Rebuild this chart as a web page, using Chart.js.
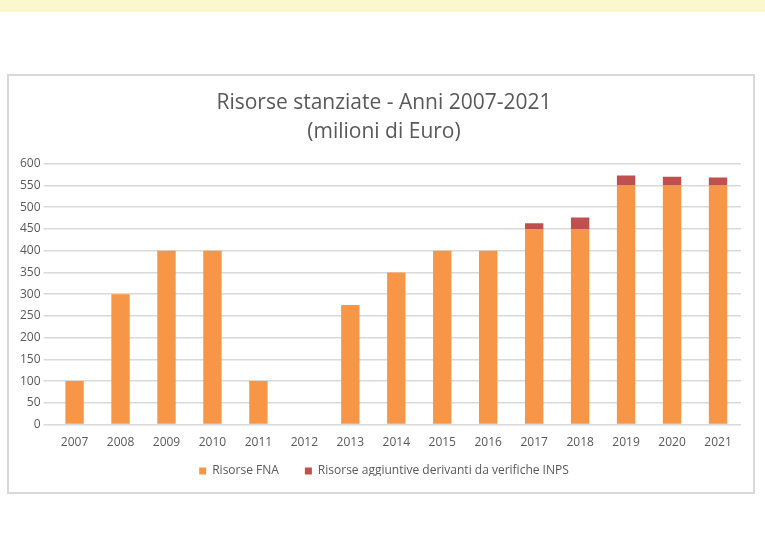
<!DOCTYPE html>
<html>
<head>
<meta charset="utf-8">
<script src="https://cdn.jsdelivr.net/npm/chart.js@4"></script>
<style>
  body { margin: 0; background: #fff; width: 765px; height: 549px; overflow: hidden; }
  .band { height: 12px; background: #fcf8cd; }
  .box { position: absolute; left: 7px; top: 74px; width: 744px; height: 416px; border: 2px solid #d9d9d9; }
</style>
</head>
<body>
<div class="band"></div>
<div class="box"><canvas id="risorseChart" width="744" height="416"></canvas></div>
<script>
const anni = ['2007', '2008', '2009', '2010', '2011', '2012', '2013', '2014', '2015', '2016', '2017', '2018', '2019', '2020', '2021'];
const risorseFNA = [100, 300, 400, 400, 100, 0, 275, 350, 400, 400, 450, 450, 550, 550, 550];
const risorseINPS = [0, 0, 0, 0, 0, 0, 0, 0, 0, 0, 13, 26, 23, 20, 18];

// shrink the legend box so the plot reaches further down,
// then nudge title and legend into place
const nudge = {
    id: 'nudge',
    beforeInit(chart) {
        const fit = chart.legend.fit;
        chart.legend.fit = function () {
            fit.bind(chart.legend)();
            this.height -= 11;
        };
    },
    afterLayout(chart) {
        const lg = chart.legend;
        lg.top -= 14; lg.bottom -= 14;
        lg.left += 5; lg.right += 5;
        const tb = chart.titleBlock;
        tb.left += 5; tb.right += 5;
    }
};

const ctx = document.getElementById('risorseChart').getContext('2d');
new Chart(ctx, {
    type: 'bar',
    data: {
        labels: anni,
        datasets: [{
            label: 'Risorse FNA',
            data: risorseFNA,
            backgroundColor: '#f79646'
        }, {
            label: 'Risorse aggiuntive derivanti da verifiche INPS',
            data: risorseINPS,
            backgroundColor: '#c0504d'
        }]
    },
    plugins: [nudge],
    options: {
        responsive: false,
        animation: false,
        layout: { padding: { left: 8, right: 12, top: 6, bottom: 2 } },
        datasets: { bar: { categoryPercentage: 1, barPercentage: 0.4 } },
        plugins: {
            title: {
                display: true,
                text: ['Risorse stanziate - Anni 2007-2021', '(milioni di Euro)'],
                color: '#595959',
                font: { family: 'Open Sans', size: 21, weight: 'normal', lineHeight: 1.35 },
                padding: { top: 7, bottom: 18 }
            },
            legend: {
                position: 'bottom',
                labels: {
                    color: '#595959',
                    font: { family: 'Open Sans', size: 12 },
                    boxWidth: 7,
                    boxHeight: 7,
                    padding: 26
                }
            },
            tooltip: { enabled: false }
        },
        scales: {
            x: {
                stacked: true,
                grid: { display: false },
                border: { display: false },
                ticks: { color: '#595959', font: { family: 'Open Sans', size: 12 }, maxRotation: 0 }
            },
            y: {
                stacked: true,
                min: 0,
                max: 600,
                grid: { color: '#d9d9d9', lineWidth: 1.5 },
                border: { display: false },
                ticks: { stepSize: 50, color: '#595959', font: { family: 'Open Sans', size: 12 } }
            }
        }
    }
});
</script>
</body>
</html>
